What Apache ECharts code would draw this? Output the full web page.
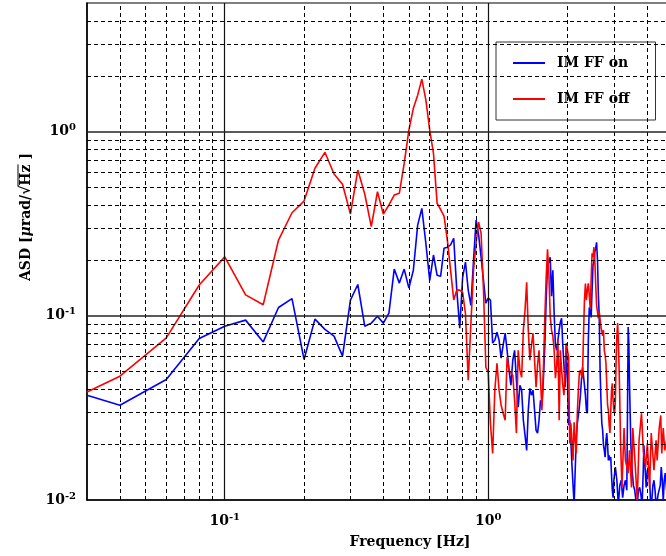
<!DOCTYPE html>
<html lang="en">
<head>
    <meta charset="UTF-8">
    <title>IM FF ASD</title>
    <style>
        body, html {
            margin: 0;
            padding: 0;
            width: 100%;
            height: 100%;
            background: #fff;
        }
        #container {
            width: 666px;
            height: 556px;
        }
    </style>
    <script src="https://cdn.jsdelivr.net/npm/echarts@6/dist/echarts.min.js"></script>
</head>
<body>
<div id="container"></div>
</body>
</html>
<script type="text/javascript">
    // IM FF on (blue)
    var freqOn = [0.03, 0.04, 0.06, 0.08, 0.10, 0.12, 0.14, 0.16, 0.18, 0.20, 0.22, 0.24, 0.26, 0.28, 0.30, 0.32, 0.34, 0.36, 0.38, 0.40,
        0.42, 0.44, 0.46, 0.48, 0.50, 0.52, 0.54, 0.56, 0.58, 0.60, 0.62, 0.64, 0.66, 0.68, 0.70, 0.72, 0.74, 0.76, 0.78, 0.80,
        0.82, 0.84, 0.86, 0.88, 0.90, 0.92, 0.94, 0.96, 0.98, 1.00, 1.02, 1.04, 1.06, 1.08, 1.10, 1.12, 1.14, 1.16, 1.18, 1.20,
        1.22, 1.24, 1.26, 1.28, 1.30, 1.32, 1.34, 1.36, 1.38, 1.40, 1.42, 1.44, 1.46, 1.48, 1.50, 1.52, 1.54, 1.56, 1.58, 1.60,
        1.62, 1.64, 1.66, 1.68, 1.70, 1.72, 1.74, 1.76, 1.78, 1.80, 1.82, 1.84, 1.86, 1.88, 1.90, 1.92, 1.94, 1.96, 1.98, 2.00,
        2.02, 2.04, 2.06, 2.08, 2.10, 2.12, 2.14, 2.16, 2.18, 2.20, 2.22, 2.24, 2.26, 2.28, 2.30, 2.32, 2.34, 2.36, 2.38, 2.40,
        2.42, 2.44, 2.46, 2.48, 2.50, 2.52, 2.54, 2.56, 2.58, 2.60, 2.62, 2.64, 2.66, 2.68, 2.70, 2.72, 2.74, 2.76, 2.78, 2.80,
        2.82, 2.84, 2.86, 2.88, 2.90, 2.92, 2.94, 2.96, 2.98, 3.00, 3.04, 3.08, 3.12, 3.16, 3.20, 3.24, 3.28, 3.32, 3.36, 3.38,
        3.40, 3.42, 3.44, 3.48, 3.52, 3.56, 3.60, 3.64, 3.68, 3.72, 3.76, 3.80, 3.84, 3.88, 3.90, 3.94, 3.98, 4.02, 4.06, 4.10,
        4.14, 4.18, 4.22, 4.26, 4.30, 4.34, 4.38, 4.42, 4.46, 4.50, 4.54, 4.58, 4.62, 4.66, 4.70, 4.76];
    var asdOn = [0.0371, 0.0327, 0.0451, 0.0754, 0.0879, 0.0948, 0.0722, 0.111, 0.124, 0.058, 0.096, 0.0844, 0.0776, 0.0604, 0.1217, 0.148, 0.0879, 0.0913, 0.0995, 0.0913,
        0.1035, 0.1795, 0.1506, 0.1795, 0.1415, 0.177, 0.311, 0.383, 0.248, 0.156, 0.214, 0.166, 0.164, 0.233, 0.236, 0.243, 0.264, 0.138, 0.0858, 0.162,
        0.196, 0.138, 0.114, 0.201, 0.331, 0.275, 0.208, 0.156, 0.117, 0.125, 0.1217, 0.0711, 0.0738, 0.0815, 0.0738, 0.0589, 0.0693, 0.0805, 0.065, 0.0507,
        0.042, 0.0574, 0.065, 0.0448, 0.0319, 0.042, 0.0395, 0.0271, 0.0225, 0.0186, 0.0307, 0.0404, 0.0371, 0.0395, 0.0307, 0.0239, 0.0231, 0.0271, 0.0348, 0.0327,
        0.0448, 0.0676, 0.1217, 0.189, 0.196, 0.208, 0.128, 0.177, 0.1035, 0.0693, 0.065, 0.0738, 0.0836, 0.0925, 0.097, 0.0693, 0.054, 0.041, 0.0693, 0.0448,
        0.0255, 0.0271, 0.0211, 0.0155, 0.012, 0.0095, 0.0145, 0.0219, 0.0261, 0.0288, 0.0323, 0.0371, 0.0448, 0.0526, 0.0476, 0.042, 0.0371, 0.0307, 0.0296, 0.0738,
        0.111, 0.105, 0.098, 0.138, 0.189, 0.196, 0.222, 0.233, 0.251, 0.201, 0.1294, 0.1, 0.0507, 0.0348, 0.0261, 0.0239, 0.0198, 0.0186, 0.0171, 0.0211,
        0.0231, 0.0198, 0.0164, 0.0175, 0.0164, 0.0171, 0.0136, 0.0113, 0.0103, 0.0128, 0.0151, 0.0128, 0.0094, 0.012, 0.0128, 0.0103, 0.012, 0.0128, 0.0113, 0.03,
        0.087, 0.07, 0.043, 0.0203, 0.0145, 0.012, 0.0113, 0.0099, 0.0094, 0.0113, 0.0117, 0.0107, 0.0094, 0.0145, 0.0198, 0.0203, 0.0117, 0.0145, 0.0151, 0.0128,
        0.0094, 0.0099, 0.012, 0.0128, 0.0113, 0.0094, 0.0099, 0.0108, 0.0107, 0.012, 0.0151, 0.0128, 0.0099, 0.0128, 0.014, 0.0113];

    // IM FF off (red)
    var freqOff = [0.03, 0.04, 0.06, 0.08, 0.10, 0.12, 0.14, 0.16, 0.18, 0.20, 0.22, 0.24, 0.26, 0.28, 0.30, 0.32, 0.34, 0.36, 0.38, 0.40,
        0.42, 0.44, 0.46, 0.48, 0.50, 0.52, 0.54, 0.56, 0.58, 0.60, 0.62, 0.64, 0.66, 0.68, 0.70, 0.72, 0.74, 0.76, 0.78, 0.80,
        0.82, 0.84, 0.86, 0.88, 0.90, 0.92, 0.94, 0.96, 0.98, 1.00, 1.02, 1.04, 1.06, 1.08, 1.10, 1.12, 1.14, 1.16, 1.18, 1.20,
        1.22, 1.24, 1.26, 1.28, 1.30, 1.32, 1.34, 1.36, 1.38, 1.40, 1.42, 1.44, 1.46, 1.48, 1.50, 1.52, 1.54, 1.56, 1.58, 1.60,
        1.62, 1.64, 1.66, 1.68, 1.70, 1.72, 1.74, 1.76, 1.78, 1.80, 1.82, 1.84, 1.86, 1.88, 1.90, 1.92, 1.94, 1.96, 1.98, 2.00,
        2.02, 2.04, 2.06, 2.08, 2.10, 2.12, 2.14, 2.16, 2.18, 2.20, 2.22, 2.24, 2.26, 2.28, 2.30, 2.32, 2.34, 2.36, 2.38, 2.40,
        2.42, 2.44, 2.46, 2.48, 2.50, 2.52, 2.54, 2.56, 2.58, 2.60, 2.62, 2.64, 2.66, 2.68, 2.70, 2.72, 2.74, 2.76, 2.78, 2.80,
        2.82, 2.84, 2.86, 2.88, 2.90, 2.92, 2.94, 2.96, 2.98, 3.00, 3.02, 3.04, 3.06, 3.08, 3.10, 3.12, 3.14, 3.16, 3.18, 3.22,
        3.28, 3.32, 3.40, 3.44, 3.50, 3.54, 3.62, 3.68, 3.74, 3.82, 3.88, 3.96, 4.02, 4.10, 4.16, 4.26, 4.34, 4.38, 4.46, 4.52,
        4.56, 4.62, 4.68, 4.76];
    var asdOff = [0.0386, 0.047, 0.076, 0.147, 0.209, 0.130, 0.115, 0.258, 0.363, 0.420, 0.633, 0.773, 0.589, 0.518, 0.357, 0.619, 0.459, 0.305, 0.472, 0.357,
        0.40, 0.453, 0.463, 0.673, 1.02, 1.34, 1.58, 1.93, 1.49, 1.02, 0.763, 0.408, 0.378, 0.348, 0.258, 0.177, 0.122, 0.138, 0.138, 0.134,
        0.103, 0.0447, 0.091, 0.177, 0.248, 0.323, 0.281, 0.138, 0.0526, 0.0494, 0.0261, 0.0179, 0.0395, 0.0553, 0.0395, 0.0327, 0.0296, 0.0271, 0.0597, 0.0507,
        0.0489, 0.0476, 0.0348, 0.0231, 0.065, 0.0507, 0.0464, 0.0836, 0.107, 0.152, 0.0836, 0.0574, 0.0693, 0.0805, 0.0574, 0.041, 0.054, 0.065, 0.0448, 0.0307,
        0.0507, 0.0948, 0.16, 0.23, 0.17, 0.0995, 0.0836, 0.078, 0.065, 0.0459, 0.054, 0.0738, 0.0271, 0.065, 0.0507, 0.042, 0.0371, 0.0507, 0.0712, 0.065,
        0.0597, 0.0203, 0.0261, 0.0211, 0.0164, 0.0264, 0.0211, 0.0179, 0.030, 0.0395, 0.0494, 0.0507, 0.0476, 0.0459, 0.0767, 0.1217, 0.150, 0.1217, 0.138, 0.150,
        0.129, 0.110, 0.156, 0.219, 0.208, 0.236, 0.201, 0.147, 0.114, 0.105, 0.097, 0.105, 0.104, 0.087, 0.087, 0.078, 0.0836, 0.065, 0.061, 0.0553,
        0.042, 0.0327, 0.0307, 0.0255, 0.0231, 0.0307, 0.0395, 0.043, 0.0348, 0.0307, 0.0296, 0.0348, 0.0574, 0.078, 0.0913, 0.0738, 0.0526, 0.0348, 0.0211, 0.0117,
        0.0246, 0.0164, 0.014, 0.0186, 0.0117, 0.0246, 0.0151, 0.0099, 0.0211, 0.0296, 0.0186, 0.0151, 0.0203, 0.0117, 0.0231, 0.0145, 0.0211, 0.0164, 0.0246, 0.0288,
        0.0179, 0.0246, 0.0186, 0.0211];

    // grid lines (dashed minor, solid major)
    var minorX = [0.04, 0.05, 0.06, 0.07, 0.08, 0.09, 0.2, 0.3, 0.4, 0.5, 0.6, 0.7, 0.8, 0.9, 2, 3, 4, 5, 6, 7, 8];
    var majorX = [0.1, 1];
    var minorY = [0.02, 0.03, 0.04, 0.05, 0.06, 0.07, 0.08, 0.09, 0.2, 0.3, 0.4, 0.5, 0.6, 0.7, 0.8, 0.9, 2, 3, 4];
    var majorY = [0.1, 1];

    var FONT = '"DejaVu Serif", "Liberation Serif", serif';

    function zip(f, v) {
        var out = [];
        for (var i = 0; i < f.length; i++) out.push([f[i], v[i]]);
        return out;
    }

    var gridLines = [];
    minorX.forEach(function (x) {
        gridLines.push({xAxis: x, lineStyle: {color: '#000', width: 1, type: [4, 3]}});
    });
    minorY.forEach(function (y) {
        gridLines.push({yAxis: y, lineStyle: {color: '#000', width: 1, type: [4, 3]}});
    });
    majorX.forEach(function (x) {
        gridLines.push({xAxis: x, lineStyle: {color: '#111', width: 1.2, type: 'solid'}});
    });
    majorY.forEach(function (y) {
        gridLines.push({yAxis: y, lineStyle: {color: '#222', width: 1.5, type: 'solid'}});
    });

    function powLabel(v) {
        var e = Math.log(v) / Math.LN10;
        var r = Math.round(e);
        if (Math.abs(e - r) > 1e-6) return '';
        return '{b|10}{s|' + r + '}';
    }
    var labelRich = {
        b: {fontFamily: FONT, fontWeight: 'bold', fontSize: 14, color: '#000'},
        s: {fontFamily: FONT, fontWeight: 'bold', fontSize: 10, color: '#000', padding: [0, 0, 8, 0]}
    };

    // y axis title, drawn rotated with an overline over "Hz"
    var ctx = document.createElement('canvas').getContext('2d');
    ctx.font = 'bold 14px ' + FONT;
    var wPre = ctx.measureText('ASD [').width;
    ctx.font = 'italic bold 14px ' + FONT;
    wPre += ctx.measureText('\u03bc').width;
    ctx.font = 'bold 14px ' + FONT;
    wPre += ctx.measureText('rad/\u221a').width;
    var wHz = ctx.measureText('Hz').width;
    var wAll = wPre + wHz + ctx.measureText(' ]').width;

    var dom = document.getElementById("container");
    var myChart = echarts.init(dom, null, {renderer: 'canvas'});
    var option = {
        animation: false,
        backgroundColor: '#fff',
        grid: {
            left: 87, top: 3, bottom: 56, right: -67,
            show: true, backgroundColor: '#fff', borderColor: '#000', borderWidth: 1.2,
            containLabel: false, outerBoundsMode: 'none'
        },
        legend: {
            data: ['IM FF on', 'IM FF off'],
            orient: 'vertical',
            left: 496, top: 42,
            padding: [13, 26, 13, 17],
            itemGap: 20,
            icon: 'rect',
            itemWidth: 32, itemHeight: 2,
            backgroundColor: '#fff',
            borderColor: '#333', borderWidth: 1,
            textStyle: {fontFamily: FONT, fontWeight: 'bold', fontSize: 14, lineHeight: 16, color: '#000', padding: [0, 0, 0, 7]}
        },
        xAxis: {
            type: 'log', min: 0.03, max: 8.5, logBase: 10,
            name: 'Frequency [Hz]', nameLocation: 'middle', nameGap: 35,
            nameTextStyle: {fontFamily: FONT, fontWeight: 'bold', fontSize: 14, color: '#000'},
            axisLine: {show: true, lineStyle: {color: '#000', width: 1.5}},
            axisTick: {show: false},
            splitLine: {show: false},
            axisLabel: {margin: 12, formatter: powLabel, rich: labelRich, showMinLabel: true, showMaxLabel: true}
        },
        yAxis: {
            type: 'log', min: 0.01, max: 5, logBase: 10,
            axisLine: {show: true, lineStyle: {color: '#000', width: 1.5}},
            axisTick: {show: false},
            splitLine: {show: false},
            axisLabel: {margin: 11, formatter: powLabel, rich: labelRich}
        },
        graphic: [{
            type: 'group', x: 26, y: 217, rotation: Math.PI / 2,
            children: [{
                type: 'text',
                style: {
                    text: '{n|ASD [}{i|\u03bc}{n|rad/\u221aHz ]}',
                    x: 0, y: 0, align: 'center', verticalAlign: 'middle',
                    rich: {
                        n: {fontFamily: FONT, fontWeight: 'bold', fontSize: 14, fill: '#000'},
                        i: {fontFamily: FONT, fontWeight: 'bold', fontStyle: 'italic', fontSize: 14, fill: '#000'}
                    }
                }
            }, {
                type: 'line',
                shape: {x1: -wAll / 2 + wPre - 1, y1: -8, x2: -wAll / 2 + wPre + wHz, y2: -8},
                style: {stroke: '#000', lineWidth: 1}
            }]
        }],
        series: [{
            name: 'grid',
            type: 'line',
            data: [],
            silent: true,
            z: 1,
            markLine: {
                silent: true, symbol: ['none', 'none'], label: {show: false},
                animation: false, data: gridLines
            }
        }, {
            name: 'IM FF on',
            type: 'line',
            data: zip(freqOn, asdOn),
            symbol: 'none',
            z: 3,
            color: '#0000ff',
            lineStyle: {color: '#0000ff', width: 1.6}
        }, {
            name: 'IM FF off',
            type: 'line',
            data: zip(freqOff, asdOff),
            symbol: 'none',
            z: 4,
            color: '#ff0000',
            lineStyle: {color: '#ff0000', width: 1.6}
        }]
    };
    myChart.setOption(option);
</script>
